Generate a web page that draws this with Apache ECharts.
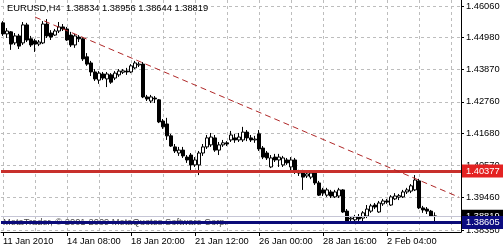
<!DOCTYPE html>
<html><head><meta charset="utf-8">
<script src="https://cdn.jsdelivr.net/npm/echarts@6/dist/echarts.min.js"></script>
<style>html,body{margin:0;padding:0;background:#fff}#c{width:503px;height:250px}</style>
</head><body><div id="c"></div>
<script>
const symbolText = 'EURUSD,H4';
const lastQuote = [1.38834, 1.38956, 1.38644, 1.38819];
const copyrightText = 'MetaTrader, \u00a9 2001-2009 MetaQuotes Software Corp.';

const opens = [
1.4548,1.4510,1.4517,1.4479,1.4503,1.4479,1.4541,1.4493,1.4486,1.4475,
1.4479,1.4544,1.4513,1.4506,1.4520,1.4534,1.4527,1.4506,1.4472,1.4499,
1.4493,1.4431,1.4410,1.4379,1.4351,1.4372,1.4355,1.4369,1.4358,1.4369,
1.4378,1.4382,1.4379,1.4393,1.4403,1.4406,1.4293,1.4279,1.4289,1.4283,
1.4210,1.4200,1.4159,1.4121,1.4100,1.4110,1.4086,1.4093,1.4059,1.4059,
1.4100,1.4121,1.4128,1.4152,1.4110,1.4128,1.4135,1.4145,1.4152,1.4145,
1.4145,1.4172,1.4152,1.4145,1.4166,1.4117,1.4100,1.4052,1.4086,1.4076,
1.4059,1.4076,1.4052,1.4076,1.4035,1.4035,1.4021,1.4017,1.4035,1.3997,
1.3973,1.3955,1.3966,1.3949,1.3952,1.3973,1.3900,1.3873,1.3870,1.3880,
1.3876,1.3883,1.3900,1.3921,1.3897,1.3925,1.3935,1.3921,1.3942,1.3948,
1.3949,1.3966,1.3969,1.3973,1.4004,1.3911,1.3907,1.3900,1.38834];
const highs = [
1.4554,1.4530,1.4520,1.4513,1.4510,1.4551,1.4548,1.4503,1.4493,1.4489,
1.4554,1.4561,1.4523,1.4527,1.4551,1.4544,1.4534,1.4517,1.4510,1.4506,
1.4499,1.4444,1.4417,1.4389,1.4382,1.4379,1.4379,1.4375,1.4382,1.4389,
1.4389,1.4393,1.4406,1.4417,1.4413,1.4413,1.4300,1.4300,1.4296,1.4286,
1.4217,1.4221,1.4166,1.4131,1.4121,1.4121,1.4093,1.4100,1.4086,1.4107,
1.4131,1.4162,1.4169,1.4162,1.4138,1.4145,1.4141,1.4176,1.4166,1.4169,
1.4190,1.4179,1.4162,1.4159,1.4179,1.4124,1.4107,1.4093,1.4097,1.4097,
1.4090,1.4083,1.4086,1.4083,1.4042,1.4042,1.4035,1.4038,1.4038,1.4004,
1.3980,1.3980,1.3973,1.3973,1.3980,1.3976,1.3907,1.3883,1.3887,1.3890,
1.3900,1.3921,1.3925,1.3928,1.3935,1.3942,1.3942,1.3955,1.3962,1.3959,
1.3973,1.3980,1.3993,1.4024,1.4011,1.3918,1.3914,1.3904,1.38956];
const lows = [
1.4503,1.4496,1.4455,1.4472,1.4458,1.4472,1.4482,1.4465,1.4448,1.4468,
1.4475,1.4496,1.4489,1.4503,1.4513,1.4520,1.4486,1.4465,1.4462,1.4482,
1.4417,1.4400,1.4365,1.4348,1.4338,1.4351,1.4327,1.4338,1.4351,1.4362,
1.4372,1.4369,1.4375,1.4389,1.4396,1.4289,1.4279,1.4272,1.4272,1.4203,
1.4183,1.4145,1.4121,1.4100,1.4090,1.4083,1.4066,1.4031,1.4052,1.4024,
1.4090,1.4114,1.4121,1.4104,1.4093,1.4121,1.4124,1.4138,1.4135,1.4138,
1.4138,1.4141,1.4138,1.4135,1.4107,1.4079,1.4076,1.4048,1.4069,1.4052,
1.4052,1.4059,1.4031,1.4028,1.4021,1.3973,1.4014,1.4010,1.3990,1.3952,
1.3952,1.3949,1.3945,1.3945,1.3945,1.3894,1.3863,1.3863,1.3859,1.3866,
1.3866,1.3876,1.3894,1.3907,1.3894,1.3918,1.3925,1.3918,1.3938,1.3938,
1.3945,1.3959,1.3962,1.3969,1.3907,1.3894,1.3890,1.3880,1.38644];
const closes = [
1.4510,1.4520,1.4475,1.4503,1.4468,1.4541,1.4489,1.4472,1.4475,1.4482,
1.4544,1.4503,1.4499,1.4520,1.4534,1.4527,1.4489,1.4472,1.4503,1.4493,
1.4424,1.4406,1.4379,1.4355,1.4375,1.4358,1.4372,1.4344,1.4375,1.4382,
1.4383,1.4379,1.4400,1.4410,1.4406,1.4293,1.4286,1.4293,1.4286,1.4207,
1.4190,1.4159,1.4124,1.4107,1.4110,1.4090,1.4076,1.4059,1.4076,1.4100,
1.4121,1.4152,1.4155,1.4110,1.4128,1.4135,1.4131,1.4162,1.4145,1.4155,
1.4172,1.4152,1.4145,1.4148,1.4114,1.4086,1.4083,1.4083,1.4076,1.4086,
1.4083,1.4066,1.4076,1.4035,1.4031,1.4017,1.4028,1.4031,1.3997,1.3955,
1.3962,1.3973,1.3952,1.3966,1.3973,1.3897,1.3866,1.3876,1.3880,1.3873,
1.3894,1.3907,1.3918,1.3914,1.3928,1.3935,1.3931,1.3949,1.3952,1.3953,
1.3966,1.3973,1.3987,1.4007,1.3911,1.3904,1.3900,1.3883,1.38819];

const slotCount = 115;               // bar slots incl. right shift space
const tickBars = [0, 16, 32, 48, 64, 80, 96];
const tickLabels = ['11 Jan 2010','14 Jan 08:00','18 Jan 20:00','21 Jan 12:00','26 Jan 00:00','28 Jan 16:00','2 Feb 04:00'];
const priceTicks = [1.38350,1.39460,1.40570,1.41680,1.42760,1.43870,1.44980,1.46060];
const priceMin = 1.38281, priceMax = 1.46267;
const resistanceLevel = 1.40377;
const supportLevel = 1.38605;
const bidLevel = 1.38819;
const trendStart = [8, 1.4568];
const trendEnd = [114, 1.3948];

const categories = Array.from({length: slotCount}, (_, i) => String(i));
const candles = opens.map((o, i) => [o, closes[i], lows[i], highs[i]]);

const FONT = 'Liberation Sans';
const FS = 9.3;

const chart = echarts.init(document.getElementById('c'), null, {renderer: 'canvas'});
const boxLabel = (bg, val) => ({
  show: true, position: 'end', distance: 1,
  formatter: () => val.toFixed(5),
  color: '#fff', backgroundColor: bg,
  fontFamily: FONT, fontSize: FS, lineHeight: 11,
  padding: [1, 4, 1, 4]
});
chart.setOption({
  animation: false,
  backgroundColor: '#fff',
  title: [
    {text: symbolText + '  ' + lastQuote.map(v => v.toFixed(5)).join(' '),
     left: 7, top: 4, padding: 0,
     textStyle: {fontFamily: FONT, fontSize: FS, fontWeight: 'normal', color: '#000'}},
    {text: copyrightText, left: 3, top: 218, padding: 0, z: 1,
     textStyle: {fontFamily: FONT, fontSize: FS, fontWeight: 'normal', color: '#4a4a4a'}}
  ],
  grid: {left: 1, right: 42, top: 0, bottom: 18},
  xAxis: {
    type: 'category', data: categories, boundaryGap: true,
    axisLine: {show: true, lineStyle: {color: '#000', width: 1}},
    axisTick: {show: true, alignWithLabel: true, length: 4, lineStyle: {color: '#000'},
      interval: (i) => tickBars.includes(i)},
    axisLabel: {show: true, align: 'left', margin: 5, color: '#000', fontFamily: FONT, fontSize: FS,
      interval: (i) => tickBars.includes(i),
      formatter: (v, i) => { const k = tickBars.indexOf(i); return k >= 0 ? tickLabels[k] : ''; }},
    splitLine: {show: true, alignWithLabel: true, interval: (i) => i % 8 === 0,
      lineStyle: {color: '#bdbdbd', type: [3, 3], width: 1}}
  },
  yAxis: {
    type: 'value', position: 'right', min: priceMin, max: priceMax, scale: true,
    axisLine: {show: true, lineStyle: {color: '#000', width: 1}},
    axisTick: {show: true, length: 3, customValues: priceTicks, lineStyle: {color: '#000'}},
    axisLabel: {show: true, margin: 5, customValues: priceTicks, color: '#000', fontFamily: FONT, fontSize: FS,
      formatter: (v) => v.toFixed(5)},
    splitLine: {show: true, customValues: priceTicks, lineStyle: {color: '#bdbdbd', type: [3, 3], width: 1}}
  },
  series: [{
    type: 'candlestick', data: candles, barWidth: 3,
    itemStyle: {color: '#fff', color0: '#000', borderColor: '#000', borderColor0: '#000', borderWidth: 1},
    markLine: {
      symbol: 'none', silent: true, animation: false, precision: 5,
      data: [
        {yAxis: bidLevel, lineStyle: {color: '#c6c6d6', width: 1, type: 'solid'}, label: boxLabel('#000', bidLevel)},
        {yAxis: resistanceLevel, lineStyle: {color: '#c8302c', width: 3, type: 'solid'}, label: boxLabel('#e42222', resistanceLevel)},
        {yAxis: supportLevel, lineStyle: {color: '#0a0a78', width: 3, type: 'solid'}, label: boxLabel('#0c0c80', supportLevel)},
        [{coord: [String(trendStart[0]), trendStart[1]], lineStyle: {color: '#b02828', width: 1, type: [6, 4]}, label: {show: false}},
         {coord: [String(trendEnd[0]), trendEnd[1]]}]
      ]
    }
  }]
});
</script></body></html>
